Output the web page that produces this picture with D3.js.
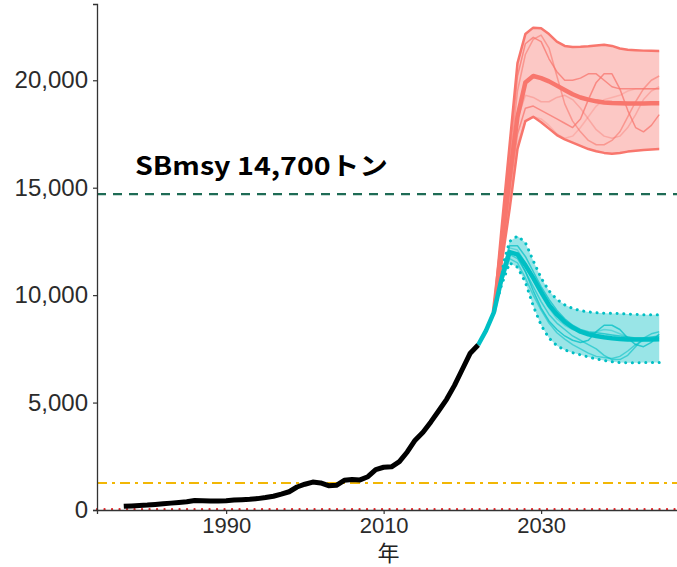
<!DOCTYPE html>
<html>
<head>
<meta charset="utf-8">
<script src="https://cdn.jsdelivr.net/npm/d3@7"></script>
<style>
  html, body { margin: 0; padding: 0; background: #fff; }
  svg { display: block; }
</style>
</head>
<body>
<svg id="chart" width="677" height="567"></svg>
<script>
// Spawning stock biomass (t): observed series and two projection scenarios
const histYears = d3.range(1977, 2023);
const histSSB = [170,190,210,230,260,290,320,350,380,440,430,420,420,430,460,480,500,530,580,640,
                 740,850,1070,1200,1300,1260,1130,1150,1380,1420,1400,1550,1880,1990,2010,2250,
                 2700,3250,3620,4100,4620,5150,5800,6550,7300,7680];

// Current-management projection (teal), 2022–2045
const projYears = d3.range(2022, 2046);
const tealMean = [7680,8350,9200,10800,12000,11900,11400,10800,10150,9550,9100,8750,8500,8300,
                  8180,8100,8040,7990,7960,7940,7930,7930,7940,7950];

// Band and sample runs start at 2024
const bandYears = d3.range(2024, 2046);
const tealHi = [9200,11200,12500,12750,12450,11600,10800,10200,9800,9550,9380,9280,9220,9180,9160,9150,9140,9120,9100,9090,9090,9090];
const tealLo = [9200,10500,11500,11300,10600,9500,8600,8000,7650,7450,7320,7220,7120,7030,6960,6900,6860,6850,6850,6860,6860,6860];
const tealRuns = [
  [9200,11000,12300,12300,11800,11100,10400,9800,9300,8900,8600,8400,8300,8250,8200,8150,8100,8050,8000,8000,8050,8100],
  [9200,10900,12000,11800,11100,10200,9400,8800,8400,8100,7900,7800,7900,8300,8600,8600,8400,8000,7700,7600,7800,8200],
  [9200,10700,11700,11500,10800,10000,9300,8700,8250,7950,7700,7500,7300,7150,7100,7050,7150,7400,7700,7900,8000,8100],
  [9200,10800,11900,11700,11100,10400,9700,9100,8700,8400,8100,7900,7700,7500,7200,7000,7000,7200,7600,8000,8200,8300],
  [9200,11100,12200,12100,11500,10700,10000,9400,8900,8600,8400,8300,8200,8300,8400,8350,8200,8050,7950,7900,7950,8000]
];

// No-catch projection (red), 2024–2045
const redMean = [9200,12300,15500,18300,19900,20200,20100,19950,19750,19550,19350,19200,19100,19020,18970,18940,18930,18920,18920,18920,18930,18930];
const redHi = [9200,13200,17000,20800,22150,22450,22420,22150,21800,21600,21550,21560,21580,21620,21650,21600,21480,21420,21400,21380,21370,21360];
const redLo = [9200,11500,14000,16800,18100,18300,18050,17750,17450,17250,17100,16950,16800,16700,16620,16580,16620,16680,16720,16760,16780,16800];
const redRuns = [
  [9200,12800,16500,20200,21700,22000,21800,21000,20400,20000,20000,20100,20300,20300,20000,19700,19600,19600,19600,19600,19600,19600],
  [9200,12500,16000,19500,21200,21900,22100,21500,20200,18900,18100,17600,17200,17000,17000,17200,17600,18300,19000,19600,20000,20200],
  [9200,11800,14800,17500,18700,18800,18600,18400,18200,18000,17800,18200,19100,19900,20300,20300,19600,18600,17800,17600,17900,18400],
  [9200,12200,15300,18200,19300,19200,19000,19000,19200,19300,19100,18700,18200,17700,17400,17300,17400,17800,18400,19100,19500,19700],
  [9200,11700,14400,17000,18100,18300,18200,17900,17500,17300,17400,17800,18300,18800,19100,19200,19300,19500,19600,19600,19600,19600]
];

// Reference points
const sbMsy = 14700;
const sbLimit = 1260;
const sbBan = 40;
const refLabel = "SBmsy 14,700トン";

const xTicks = [1990, 2010, 2030];
const yTicks = [0, 5000, 10000, 15000, 20000];
const xTitle = "年";

const svg = d3.select("#chart");
const padL = 97, padR = 686, padT = 4, padB = 510;

const x = d3.scaleLinear().domain([1973.6, 2048.4]).range([padL, padR]);
const y = d3.scaleLinear().domain([0, 23550]).range([padB, padT]);

const red = "#F8766D", teal = "#00BFC4";

const plot = svg.append("g");

// reference lines
plot.append("line")
  .attr("x1", padL).attr("x2", padR).attr("y1", y(sbMsy)).attr("y2", y(sbMsy))
  .attr("stroke", "#1E6B55").attr("stroke-width", 2.2).attr("stroke-dasharray", "9,7");
plot.append("line")
  .attr("x1", padL).attr("x2", padR).attr("y1", y(sbLimit)).attr("y2", y(sbLimit))
  .attr("stroke", "#F2B705").attr("stroke-width", 2).attr("stroke-dasharray", "10,5,3,5");
plot.append("line")
  .attr("x1", padL).attr("x2", padR).attr("y1", y(sbBan)).attr("y2", y(sbBan))
  .attr("stroke", "#E5262A").attr("stroke-width", 2.2).attr("stroke-linecap", "round")
  .attr("stroke-dasharray", "0.1,7.4");

const line = d3.line().x(d => x(d[0])).y(d => y(d[1]));
const area = d3.area().x(d => x(d[0])).y0(d => y(d[1])).y1(d => y(d[2]));
const zip = (xs, ys) => xs.map((v, i) => [v, ys[i]]);

// red band
plot.append("path")
  .datum(bandYears.map((yr, i) => [yr, redLo[i], redHi[i]]))
  .attr("d", area).attr("fill", red).attr("fill-opacity", 0.4);
[redHi, redLo].forEach(s => plot.append("path").datum(zip(bandYears, s))
  .attr("d", line).attr("fill", "none").attr("stroke", red).attr("stroke-width", 2.5)
  .attr("stroke-linejoin", "round"));
redRuns.forEach((s, k) => plot.append("path").datum(zip(bandYears, s))
  .attr("d", line).attr("fill", "none").attr("stroke", red)
  .attr("stroke-opacity", [0.75, 0.6, 0.75, 0.4, 0.3][k]).attr("stroke-width", 1.5)
  .attr("stroke-linejoin", "round"));

// teal band
plot.append("path")
  .datum(bandYears.map((yr, i) => [yr, tealLo[i], tealHi[i]]))
  .attr("d", area).attr("fill", teal).attr("fill-opacity", 0.4);
[tealHi, tealLo].forEach(s => plot.append("path").datum(zip(bandYears, s))
  .attr("d", line).attr("fill", "none").attr("stroke", teal).attr("stroke-width", 3)
  .attr("stroke-linecap", "round").attr("stroke-dasharray", "0.1,6.6"));
tealRuns.forEach((s, k) => plot.append("path").datum(zip(bandYears, s))
  .attr("d", line).attr("fill", "none").attr("stroke", teal)
  .attr("stroke-opacity", [0.7, 0.75, 0.55, 0.6, 0.4][k]).attr("stroke-width", 1.5)
  .attr("stroke-linejoin", "round"));

// mean lines
plot.append("path").datum(zip(bandYears, redMean))
  .attr("d", line).attr("fill", "none").attr("stroke", red).attr("stroke-width", 4.5)
  .attr("stroke-linejoin", "round");
plot.append("path").datum(zip(projYears, tealMean))
  .attr("d", line).attr("fill", "none").attr("stroke", teal).attr("stroke-width", 4.5)
  .attr("stroke-linejoin", "round");

// observed
plot.append("path").datum(zip(histYears, histSSB))
  .attr("d", line).attr("fill", "none").attr("stroke", "#000").attr("stroke-width", 5)
  .attr("stroke-linejoin", "round");

// label for SBmsy
svg.append("text")
  .attr("x", 135).attr("y", 175)
  .attr("font-family", "'Noto Sans CJK JP', 'Noto Sans', sans-serif")
  .attr("font-weight", "bold").attr("font-size", 25).attr("fill", "#000")
  .attr("textLength", 253).attr("lengthAdjust", "spacingAndGlyphs")
  .text(refLabel);

// axes
const axisFont = "'Liberation Sans', Arial, sans-serif";
const xAxis = svg.append("g").attr("transform", `translate(0,${padB})`)
  .call(d3.axisBottom(x).tickValues(xTicks).tickFormat(d3.format("d")).tickSizeOuter(0).tickSize(4).tickPadding(3));
const yAxis = svg.append("g").attr("transform", `translate(${padL},0)`)
  .call(d3.axisLeft(y).tickValues(yTicks).tickFormat(d3.format(",")).tickSizeOuter(0).tickSize(4).tickPadding(5));
[xAxis, yAxis].forEach(g => {
  g.select(".domain").attr("stroke", "#333").attr("stroke-width", 1.3);
  g.selectAll(".tick line").attr("stroke", "#333").attr("stroke-width", 1.2);
  g.selectAll(".tick text").attr("fill", "#2b2b2b").attr("font-family", axisFont);
});
xAxis.selectAll(".tick text").attr("font-size", 22);
yAxis.selectAll(".tick text").attr("font-size", 24);

svg.append("text")
  .attr("x", (padL + padR) / 2 - 3).attr("y", 561)
  .attr("text-anchor", "middle")
  .attr("font-family", "'Noto Sans CJK JP', sans-serif").attr("font-size", 22).attr("fill", "#222")
  .text(xTitle);
</script>
</body>
</html>
